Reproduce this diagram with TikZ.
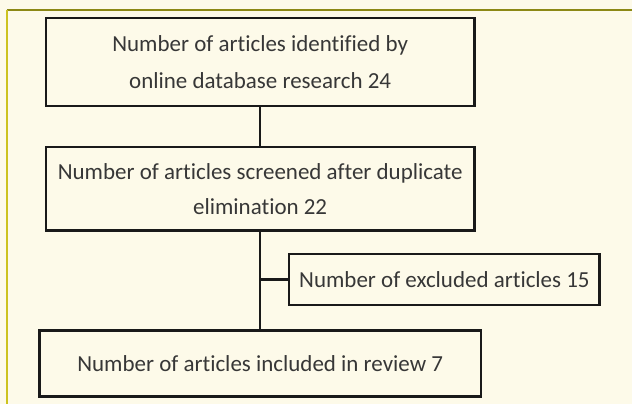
\documentclass[tikz,border=0pt]{standalone}
\usepackage{fontspec}
\setmainfont{Carlito}[Ligatures=NoCommon]
\usepackage{tikz}
\usetikzlibrary{positioning, calc}

\definecolor{pagecream}{RGB}{253,250,233}
\definecolor{frameolive}{RGB}{140,136,20}
\definecolor{frameyellow}{RGB}{205,195,30}
\definecolor{textgray}{RGB}{55,55,55}
\definecolor{linegray}{RGB}{25,25,25}

\begin{document}
\begin{tikzpicture}[
    x=1pt, y=-1pt,
    node distance=41pt,
    box/.style={draw=linegray, line width=2.6pt, inner sep=0pt, outer sep=0pt,
                align=center, text=textgray, font=\fontsize{23}{37}\selectfont},
    wide/.style={box, minimum width=429pt},
    side/.style={box, minimum width=311pt, minimum height=51pt},
    link/.style={draw=linegray, line width=2.4pt},
]

% page frame
\fill[pagecream] (0,0) rectangle (633,405);
\draw[frameolive, line width=1.6pt] (7,10) -- (633,10);
\draw[frameyellow, line width=1.6pt] (7,10) -- (7,405);
\useasboundingbox (0,0) rectangle (633,405);

\node[wide, minimum height=88pt] (ident) at (260.5,62) {Number of articles identified by\\online database research 24};
\node[wide, minimum height=84pt, below=41pt of ident, font=\fontsize{23}{35}\selectfont] (screen) {Number of articles screened after duplicate\\elimination 22};

% included / excluded
\node[box, minimum width=442pt, minimum height=66pt, below=100pt of screen] (incl) {Number of articles included in review 7};
\coordinate (branch) at ($(screen.south)!0.49!(incl.north)$);
\node[side, right=29pt of branch] (excl) {Number of excluded articles 15};

% Connectors
\draw[link] (ident) -- (screen);
\draw[link] (screen) -- (incl);
\draw[link] (branch) -- (excl);

\end{tikzpicture}
\end{document}
